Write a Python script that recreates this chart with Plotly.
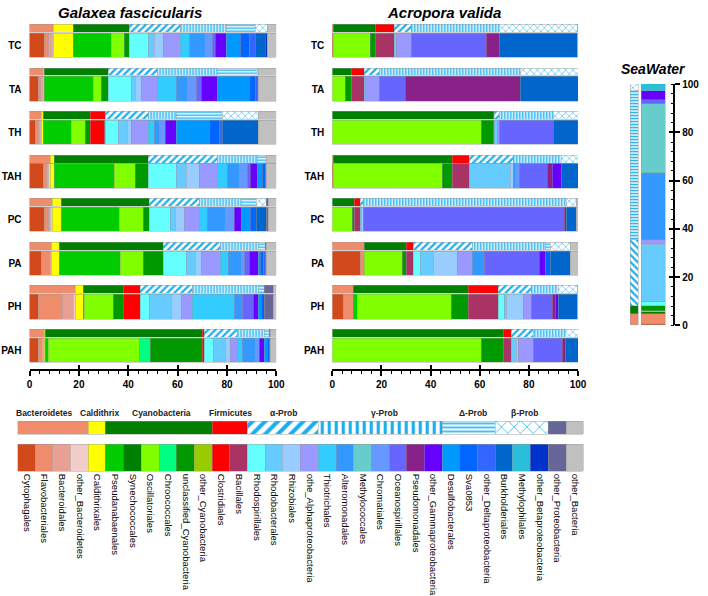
import plotly.graph_objects as go

ORDERS = ["Cytophagales", "Flavobacteriales", "Bacteroidales", "other_Bacteroidetes",
          "Caldithrixales", "Pseudanabaenales", "Synechococcales", "Oscillatoriales",
          "Chroococcales", "unclassified_Cyanobacteria", "other_Cyanobacteria",
          "Clostridiales", "Bacillales", "Rhodospirillales", "Rhodobacterales",
          "Rhizobiales", "othe_Alphaproteobacteria", "Thiotrichales", "Alteromonadales",
          "Methylococcales", "Chromatiales", "Oceanospirillales", "Pseudomonadales",
          "other_Gammaproteobacteria", "Desulfobacterales", "Sva0853",
          "other_Deltaproteobacteria", "Burkholderiales", "Methylophilales",
          "other_Betaproteobacteria", "other_Proteobacteria", "other_Bacteria"]
ORDER_COLORS = ["#D24A1C", "#EE8C6C", "#E8A094", "#F2CCC8",
                "#FFFF00", "#00CC00", "#008000", "#80FF00",
                "#00FF80", "#009900", "#99CC00",
                "#FF0000", "#AA3366", "#66FFFF", "#66CCFF",
                "#99CCFF", "#9999FF", "#33CCFF", "#3399FF",
                "#66CCCC", "#6699FF", "#6666FF", "#882288",
                "#6600FF", "#0099FF", "#0066FF",
                "#3366FF", "#0066CC", "#29BFDB",
                "#0033CC", "#666699", "#C0C0C0"]
PHYLA = ["Bacteroidetes", "Caldithrix", "Cyanobacteria", "Firmicutes", "α-Prob",
         "γ-Prob", "Δ-Prob", "β-Prob", "other_Proteobacteria", "other_Bacteria"]
PHYLUM_SIZES = [4, 1, 6, 2, 4, 7, 3, 3, 1, 1]
PHYLUM_COLORS = ["#EE8C6C", "#FFFF00", "#008000", "#FF0000", "white",
                 "white", "white", "white", "#666699", "#C0C0C0"]
PHYLUM_PATTERNS = ["", "", "", "", "/", "|", "-", "x", "", ""]
PHYLUM_SHOW_LABEL = [True, True, True, True, True, True, True, True, False, False]
SAMPLES = ["TC", "TA", "TH", "TAH", "PC", "PA", "PH", "PAH"]

# Galaxea fascicularis (relative abundance %, order level)
GF_TC = [5.9, 1.7, 1.6, 0.6, 8.0, 15.6, 0, 5.3, 0, 1.7, 0.3, 0, 0, 7.7, 2.4, 3.6, 6.6,
         3.8, 6.6, 0, 2.9, 1.1, 0, 4.3, 5.8, 3.7, 2.4, 4.0, 0, 0.7, 0, 3.7]
GF_TA = [3.6, 0.9, 1.0, 0, 0.6, 19.8, 0, 3.2, 0, 2.9, 0, 0, 0, 9.4, 1.7, 2.4, 6.5,
         7.7, 4.3, 0, 3.7, 2.2, 0, 6.2, 12.9, 2.6, 0.7, 0.4, 0, 0, 0, 7.3]
GF_TH = [2.5, 1.0, 0.8, 0.5, 0.8, 11.6, 0, 5.3, 0, 2.4, 0, 5.3, 0.5, 5.3, 3.8, 1.6, 7.0,
         2.3, 2.1, 0, 2.3, 0, 0, 4.6, 13.3, 4.0, 1.1, 14.6, 0, 0, 0, 7.3]
GF_TAH = [5.5, 1.4, 0.9, 0.7, 1.6, 24.3, 0, 8.7, 0, 5.3, 0, 0, 0, 11.0, 4.3, 5.1, 7.5,
          4.0, 4.9, 0, 3.1, 1.3, 0, 2.7, 2.0, 1.3, 0.4, 0, 0, 0, 0, 4.0]
GF_PC = [5.9, 1.7, 0.9, 0.7, 3.7, 23.5, 0, 9.7, 0, 2.7, 0, 0, 0, 8.2, 2.3, 3.5, 6.0,
         3.5, 7.0, 0, 3.7, 0, 0, 3.0, 3.4, 2.5, 0, 4.1, 0, 0, 1.0, 3.0]
GF_PA = [4.9, 3.3, 0.6, 0, 3.3, 24.7, 0, 9.3, 0, 8.3, 0, 0, 0, 9.3, 3.7, 2.3, 7.6,
         3.4, 5.3, 0, 1.0, 2.2, 0, 3.5, 0.9, 1.3, 0.7, 0, 0, 0, 0.4, 4.0]
GF_PH = [3.5, 9.9, 4.6, 0.8, 3.0, 0.4, 0, 12.0, 0, 4.0, 0, 6.9, 0, 3.6, 8.7, 4.0, 4.7,
         16.9, 3.3, 0, 0, 4.4, 0, 2.3, 1.1, 1.2, 0, 0, 0, 0, 3.7, 1.0]
GF_PAH = [3.5, 1.4, 0.9, 0.3, 0.4, 1.1, 0, 37.1, 4.4, 21.2, 0, 0.7, 0, 3.7, 4.7, 1.9, 3.1,
          2.0, 5.2, 0, 1.7, 0, 0, 2.0, 1.0, 0.9, 0, 0, 0, 0, 0.3, 2.5]

# Acropora valida
AV_TC = [0.5, 0, 0, 0, 0, 0, 0, 15.1, 0, 1.9, 0, 0, 7.7, 0, 0.7, 0, 6.4,
         0, 0, 0, 0, 30.5, 5.3, 0, 0, 0, 0, 31.5, 0, 0, 0, 0.4]
AV_TA = [0, 0, 0, 0, 0, 0, 0, 5.2, 0, 2.4, 0, 0, 5.3, 0, 0.6, 0, 5.7,
         0, 0, 0, 0, 10.3, 47.0, 0, 0, 0, 0, 23.5, 0, 0, 0, 0]
AV_TH = [0, 0, 0, 0, 0, 0, 0, 60.5, 0, 5.1, 0, 0, 0.5, 0, 0.9, 0, 0.9,
         0, 0, 0, 0, 22.0, 0, 0, 0, 0, 0, 9.9, 0, 0.2, 0, 0]
AV_TAH = [0.5, 0, 0, 0, 0, 0, 0, 44.4, 0, 4.0, 0, 0, 7.0, 0, 16.6, 1.0, 0,
          0, 1.1, 0, 1.3, 11.6, 2.0, 3.7, 0, 0, 0, 6.8, 0, 0, 0, 0]
AV_PC = [0, 0, 0, 0, 0, 0, 0, 8.3, 0, 0.5, 0, 0, 2.4, 0, 0.8, 0.8, 0,
         0, 0, 0, 0, 81.7, 0.7, 0, 0, 0, 0, 4.0, 0, 0.2, 0, 0.6]
AV_PA = [11.5, 1.4, 0, 0, 0, 0, 0, 15.4, 0, 2.0, 0, 0, 2.5, 3.1, 5.0, 10.0, 5.9,
         0, 5.1, 0, 0, 22.4, 0, 2.4, 0, 1.8, 0, 8.4, 0, 0, 0, 3.1]
AV_PH = [4.5, 4.0, 0, 0, 0, 1.8, 0, 38.2, 0, 6.7, 0, 0, 12.4, 2.3, 1.1, 6.6, 3.2,
         0, 0, 0, 0, 8.8, 1.3, 1.1, 0, 0, 0, 7.6, 0, 0, 0, 0.4]
AV_PAH = [0, 0, 0, 0, 0, 0, 0, 60.8, 0, 8.8, 0, 0, 3.3, 0, 1.9, 0.7, 6.1,
          0, 0, 0, 0, 12.0, 1.3, 0, 0, 0, 0, 5.1, 0, 0, 0, 0]

# SeaWater
SW = [0.3, 4.4, 0, 0, 0, 0, 0.6, 0.7, 0, 2.1, 0, 0, 0, 1.4, 23.6, 0.4, 1.9,
      0, 27.8, 28.7, 0, 1.3, 0, 4.1, 0, 0, 0, 0, 2.5, 0.2, 0, 0]

GF = [GF_TC, GF_TA, GF_TH, GF_TAH, GF_PC, GF_PA, GF_PH, GF_PAH]
AV = [AV_TC, AV_TA, AV_TH, AV_TAH, AV_PC, AV_PA, AV_PH, AV_PAH]

# ---------------- styling / layout constants ----------------
W, H = 708, 596
FONT = "Liberation Sans, Arial, sans-serif"
EDGE = dict(color="rgba(150,150,150,0.9)", width=0.5)
STRIPE = "#1AAFEF"
PAT_SMALL = {"/": (5, 0.45), "|": (3, 0.5), "-": (3, 0.45), "x": (5, 0.25)}
PAT_BIG = {"/": (9, 0.45), "|": (7, 0.45), "-": (4, 0.4), "x": (9, 0.2)}
ORDER_H = 0.56
PHY_H = 0.18
PHY_OFF = 0.39
# horizontal nudges (in swatch units) for the phylum captions of the legend
LABEL_SHIFT = [-0.5, 0.1, 0.1, 0.0, 0.0, 0.2, 0.2, 0.15, 0, 0]


def nz(v):
    return v if v > 0 else None


def phylum_sums(row):
    out, s = [], 0
    for n in PHYLUM_SIZES:
        out.append(sum(row[s:s + n]))
        s += n
    return out


def phylum_marker(k, table):
    shape = PHYLUM_PATTERNS[k]
    m = dict(color=PHYLUM_COLORS[k], line=EDGE)
    if shape:
        size, sol = table[shape]
        fg = "#4CC3F2" if shape == "x" else STRIPE
        m["pattern"] = dict(shape=shape, fgcolor=fg, bgcolor="white", size=size,
                            solidity=sol, fillmode="replace")
    return m


fig = go.Figure()

# main panels
for xa, ya, rows in [("x", "y", GF), ("x2", "y2", AV)]:
    pos = list(range(len(SAMPLES)))
    for j in range(len(ORDERS)):
        fig.add_trace(go.Bar(orientation="h", x=[nz(r[j]) for r in rows], y=pos,
                             width=ORDER_H, xaxis=xa, yaxis=ya, showlegend=False,
                             marker=dict(color=ORDER_COLORS[j], line=EDGE),
                             name=ORDERS[j]))
    sums = [phylum_sums(r) for r in rows]
    for k in range(len(PHYLA)):
        fig.add_trace(go.Bar(orientation="h", x=[nz(s[k]) for s in sums],
                             y=[p - PHY_OFF for p in pos], width=PHY_H,
                             xaxis=xa, yaxis=ya, showlegend=False,
                             marker=phylum_marker(k, PAT_SMALL), name=PHYLA[k]))

# seawater column (vertical)
SW_PHY_X, SW_ORD_X = 12, 31.5
for j in range(len(ORDERS)):
    fig.add_trace(go.Bar(x=[SW_ORD_X], y=[nz(SW[j])], width=25, xaxis="x3", yaxis="y3",
                         showlegend=False, marker=dict(color=ORDER_COLORS[j], line=EDGE),
                         name=ORDERS[j]))
sw_sums = phylum_sums(SW)
SW_PAT = {"/": "\\", "|": "-", "-": "|", "x": "x"}
for k in range(len(PHYLA)):
    m = phylum_marker(k, PAT_SMALL)
    if "pattern" in m:
        m["pattern"]["shape"] = SW_PAT[PHYLUM_PATTERNS[k]]
    fig.add_trace(go.Bar(x=[SW_PHY_X], y=[nz(sw_sums[k])], width=8, xaxis="x3",
                         yaxis="y3", showlegend=False, marker=m, name=PHYLA[k]))

# legend strip
for k in range(len(PHYLA)):
    fig.add_trace(go.Bar(orientation="h", x=[PHYLUM_SIZES[k]], y=[432], width=14,
                         xaxis="x4", yaxis="y4", showlegend=False,
                         marker=phylum_marker(k, PAT_BIG), name=PHYLA[k]))
for j in range(len(ORDERS)):
    fig.add_trace(go.Bar(orientation="h", x=[1], y=[463], width=28, xaxis="x4",
                         yaxis="y4", showlegend=False,
                         marker=dict(color=ORDER_COLORS[j], line=EDGE), name=ORDERS[j]))

tickfont = dict(family=FONT, size=10, color="black", weight="bold")
xcommon = dict(range=[0, 100], showline=True, linecolor="black", linewidth=1.5,
               ticks="outside", ticklen=5, tickwidth=1.5, tickcolor="black", dtick=20,
               minor=dict(dtick=4, ticklen=3, tickwidth=1, ticks="outside",
                          tickcolor="black"),
               tickfont=tickfont, showgrid=False, zeroline=False, fixedrange=True)
# overlay axes give the crossing (inside) half of the major ticks
xinside = dict(range=[0, 100], showline=False, ticks="inside", ticklen=4, tickwidth=1.5,
               tickcolor="black", dtick=20, showticklabels=False, showgrid=False,
               zeroline=False, fixedrange=True)
ycommon = dict(range=[7.43, -0.57], tickvals=list(range(len(SAMPLES))),
               ticktext=SAMPLES, showline=False, ticks="", showgrid=False,
               zeroline=False, tickfont=tickfont, ticklabelstandoff=7,
               domain=[1 - 372 / H, 1 - 15 / H])
SW_DOM = [1 - 327 / H, 1 - 80 / H]

fig.update_layout(
    width=W, height=H, autosize=False, barmode="stack", bargap=0,
    margin=dict(l=0, r=0, t=0, b=0), paper_bgcolor="white", plot_bgcolor="white",
    font=dict(family=FONT, color="black"),
    xaxis=dict(domain=[27 / W, 278 / W], anchor="y", **xcommon),
    yaxis=dict(anchor="x", **ycommon),
    xaxis2=dict(domain=[335 / W, 585 / W], anchor="y2", **xcommon),
    yaxis2=dict(anchor="x2", **ycommon),
    xaxis5=dict(overlaying="x", anchor="y", **xinside),
    xaxis6=dict(overlaying="x2", anchor="y2", **xinside),
    xaxis3=dict(domain=[630 / W, 682 / W], anchor="y3", range=[0, 52], visible=False,
                fixedrange=True),
    yaxis3=dict(domain=SW_DOM, anchor="x3", side="right",
                range=[0, 100], showline=True, linecolor="black", linewidth=1.5,
                ticks="outside", ticklen=5, tickwidth=1.5, tickcolor="black", dtick=20,
                minor=dict(dtick=4, ticklen=3, tickwidth=1, ticks="inside",
                           tickcolor="black"),
                tickfont=tickfont, showgrid=False, zeroline=False, fixedrange=True),
    yaxis5=dict(overlaying="y3", anchor="x3", side="right", range=[0, 100],
                showline=False, ticks="inside", ticklen=4, tickwidth=1.5,
                tickcolor="black", dtick=20, showticklabels=False, showgrid=False,
                zeroline=False, fixedrange=True),
    xaxis4=dict(domain=[15 / W, 591 / W], anchor="y4", range=[0, 32],
                tickvals=[j + 0.5 for j in range(len(ORDERS))], ticktext=ORDERS,
                tickangle=90, showline=False, ticks="", showgrid=False, zeroline=False,
                tickfont=dict(family=FONT, size=9.5, color="black"), fixedrange=True),
    yaxis4=dict(domain=[1 - 478 / H, 1 - 405 / H], anchor="x4", range=[478, 405],
                visible=False, fixedrange=True),
)

# invisible helper traces so that the overlay axes are drawn
for xa, ya in [("x5", "y"), ("x6", "y2"), ("x3", "y5")]:
    fig.add_trace(go.Scatter(x=[None], y=[None], xaxis=xa, yaxis=ya, showlegend=False,
                             hoverinfo="skip"))

title_font = dict(family=FONT, size=15, color="black", weight="bold", style="italic")
fig.add_annotation(text="Galaxea fascicularis", x=129 / W, y=1 - 7 / H, xref="paper",
                   yref="paper", xanchor="center", yanchor="middle", showarrow=False,
                   font=title_font)
fig.add_annotation(text="Acropora valida", x=449 / W, y=1 - 7 / H, xref="paper",
                   yref="paper", xanchor="center", yanchor="middle", showarrow=False,
                   font=title_font)
fig.add_annotation(text="SeaWater", x=662 / W, y=1 - 65 / H, xref="paper", yref="paper",
                   xanchor="center", yanchor="middle", showarrow=False,
                   font=dict(title_font, size=14))

start = 0
for k, ph in enumerate(PHYLA):
    if PHYLUM_SHOW_LABEL[k]:
        fig.add_annotation(text=ph, x=start + PHYLUM_SIZES[k] / 2 + LABEL_SHIFT[k],
                           y=417, xref="x4", yref="y4", xanchor="center",
                           yanchor="middle", showarrow=False,
                           font=dict(family=FONT, size=8.5, color="#222", weight="bold"))
    start += PHYLUM_SIZES[k]

fig.write_html("out.html", config={"displayModeBar": False},
               post_script="document.body.style.margin='0';document.body.style.overflow='hidden';")
